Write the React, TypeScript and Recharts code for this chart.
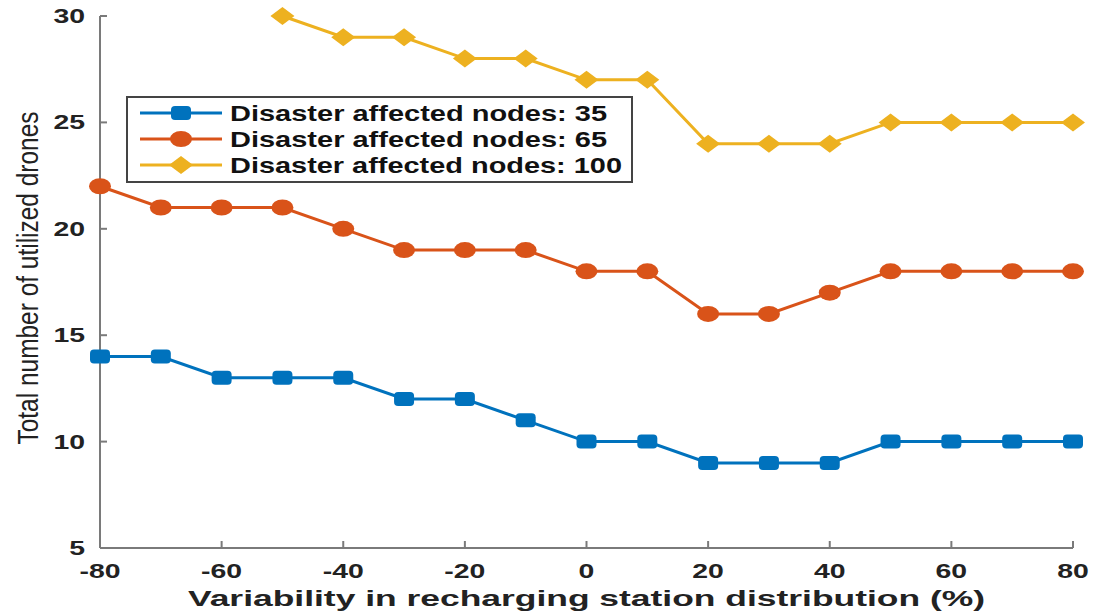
import { LineChart, Line, XAxis, YAxis, Legend } from 'recharts';

const variability = [-80, -70, -60, -50, -40, -30, -20, -10, 0, 10, 20, 30, 40, 50, 60, 70, 80];
const nodes35 = [14, 14, 13, 13, 13, 12, 12, 11, 10, 10, 9, 9, 9, 10, 10, 10, 10];
const nodes65 = [22, 21, 21, 21, 20, 19, 19, 19, 18, 18, 16, 16, 17, 18, 18, 18, 18];
const nodes100 = [null, null, null, 30, 29, 29, 28, 28, 27, 27, 24, 24, 24, 25, 25, 25, 25];
const xTicks = [-80, -60, -40, -20, 0, 20, 40, 60, 80];
const yTicks = [5, 10, 15, 20, 25, 30];
const seriesNames = ['Disaster affected nodes: 35', 'Disaster affected nodes: 65', 'Disaster affected nodes: 100'];

const BLUE = '#0072BD';
const ORANGE = '#D95319';
const YELLOW = '#EDB120';
const AXIS = '#7a7a7a';
const FONT = '"Liberation Sans", Arial, sans-serif';

const data = variability.map((v, i) => ({ x: v, a: nodes35[i], b: nodes65[i], c: nodes100[i] }));

function Marker({ kind, cx, cy }: { kind: string; cx: number; cy: number }) {
  if (kind === 'square') return <rect x={cx - 10} y={cy - 7} width={20} height={14} rx={4} fill={BLUE} />;
  if (kind === 'circle') return <ellipse cx={cx} cy={cy} rx={11} ry={8} fill={ORANGE} />;
  return <polygon points={`${cx - 12},${cy} ${cx},${cy - 9} ${cx + 12},${cy} ${cx},${cy + 9}`} fill={YELLOW} />;
}

const dotFor = (kind: string) => (p: any) => {
  if (p.value == null || p.cy == null) return <g key={p.index} />;
  return <Marker key={p.index} kind={kind} cx={p.cx} cy={p.cy} />;
};

const BottomTick = ({ x, y, payload }: any) => (
  <g>
    <line x1={x} y1={y} x2={x} y2={y - 7} stroke={AXIS} strokeWidth={2} />
    <text transform={`translate(${x},${y + 30}) scale(1.42,1)`} textAnchor="middle" fontFamily={FONT} fontWeight="bold" fontSize={20} fill="#222">
      {payload.value}
    </text>
  </g>
);

const LeftTick = ({ x, y, payload }: any) => (
  <g>
    <line x1={x} y1={y} x2={x + 7} y2={y} stroke={AXIS} strokeWidth={2} />
    <text transform={`translate(${x - 15},${y + 7}) scale(1.42,1)`} textAnchor="end" fontFamily={FONT} fontWeight="bold" fontSize={20} fill="#222">
      {payload.value}
    </text>
  </g>
);

const TopTick = ({ x, y }: any) => <line x1={x} y1={y} x2={x} y2={y + 7} stroke={AXIS} strokeWidth={2} />;
const RightTick = ({ x, y }: any) => <line x1={x} y1={y} x2={x - 7} y2={y} stroke={AXIS} strokeWidth={2} />;

const XTitle = () => (
  <text x={188} y={606} textLength={797} lengthAdjust="spacingAndGlyphs" fontFamily={FONT} fontWeight="bold" fontSize={22} fill="#222">
    Variability in recharging station distribution (%)
  </text>
);

const YTitle = () => (
  <text transform="translate(38,278) rotate(-90)" textAnchor="middle" textLength={333} lengthAdjust="spacingAndGlyphs" fontFamily={FONT} fontSize={30} fill="#222">
    Total number of utilized drones
  </text>
);

const legendRows = [
  { name: seriesNames[0], color: BLUE, kind: 'square', len: 377 },
  { name: seriesNames[1], color: ORANGE, kind: 'circle', len: 377 },
  { name: seriesNames[2], color: YELLOW, kind: 'diamond', len: 392 },
];

const LegendBox = () => (
  <svg width={508} height={88}>
    <rect x={1} y={1} width={505} height={85} fill="#fff" stroke="#444" strokeWidth={2} />
    {legendRows.map((r, i) => {
      const cy = 17 + i * 26;
      return (
        <g key={r.name}>
          <line x1={14} y1={cy} x2={96} y2={cy} stroke={r.color} strokeWidth={3} />
          <Marker kind={r.kind} cx={55} cy={cy} />
          <text x={104} y={cy + 8} textLength={r.len} lengthAdjust="spacingAndGlyphs" fontFamily={FONT} fontWeight="bold" fontSize={22} fill="#111">
            {r.name}
          </text>
        </g>
      );
    })}
  </svg>
);

const axisLine = { stroke: AXIS, strokeWidth: 2 };

export default function App() {
  return (
    <div style={{ position: 'absolute', left: 0, top: 0, background: '#fff' }}>
      <LineChart width={1093} height={615} data={data} margin={{ top: 16, right: 20, bottom: 0, left: 0 }}>
        <XAxis dataKey="x" type="number" domain={[-80, 80]} ticks={xTicks} height={67} axisLine={axisLine}
          tickLine={false} tickSize={0} tickMargin={0} tick={<BottomTick />} label={<XTitle />} />
        <XAxis xAxisId="top" dataKey="x" type="number" domain={[-80, 80]} ticks={xTicks} orientation="top" height={0} axisLine={axisLine}
          tickLine={false} tickSize={0} tickMargin={0} tick={<TopTick />} />
        <YAxis type="number" domain={[5, 30]} ticks={yTicks} width={100} axisLine={axisLine}
          tickLine={false} tickSize={0} tickMargin={0} tick={<LeftTick />} label={<YTitle />} />
        <YAxis yAxisId="right" type="number" domain={[5, 30]} ticks={yTicks} orientation="right" width={0} axisLine={axisLine}
          tickLine={false} tickSize={0} tickMargin={0} tick={<RightTick />} />
        <Legend layout="horizontal" verticalAlign="middle" align="center" content={<LegendBox />}
          wrapperStyle={{ left: 126, top: 96, width: 508, height: 88 }} />
        <Line dataKey="a" name={seriesNames[0]} stroke={BLUE} strokeWidth={3} dot={dotFor('square')} isAnimationActive={false} />
        <Line dataKey="b" name={seriesNames[1]} stroke={ORANGE} strokeWidth={3} dot={dotFor('circle')} isAnimationActive={false} />
        <Line dataKey="c" name={seriesNames[2]} stroke={YELLOW} strokeWidth={3} dot={dotFor('diamond')} isAnimationActive={false} />
      </LineChart>
    </div>
  );
}
